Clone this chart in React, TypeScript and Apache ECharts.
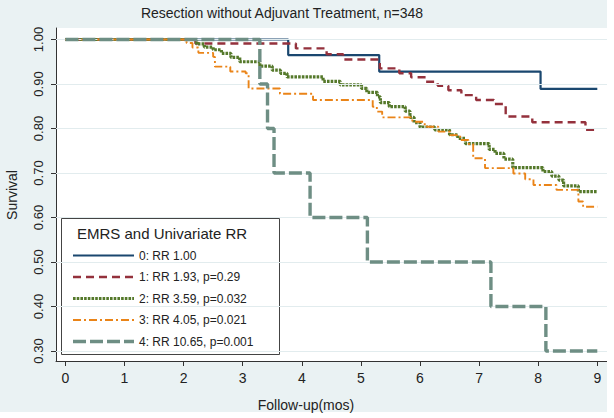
import React, { useEffect, useRef } from "react";
import * as echarts from "echarts";

const chartTitle = "Resection without Adjuvant Treatment, n=348";
const xAxisName = "Follow-up(mos)";
const yAxisName = "Survival";
const legendTitle = "EMRS and Univariate RR";
const seriesNames = [
  "0: RR 1.00",
  "1: RR 1.93, p=0.29",
  "2: RR 3.59, p=0.032",
  "3: RR 4.05, p=0.021",
  "4: RR 10.65, p=0.001",
];
const xTicks = [0, 1, 2, 3, 4, 5, 6, 7, 8, 9];
const yTicks = [0.3, 0.4, 0.5, 0.6, 0.7, 0.8, 0.9, 1.0];

// Kaplan-Meier step points: time (months) and survival after the step
const g0Times = [0, 3.77, 5.31, 8.04, 9];
const g0Surv = [1.0, 0.965, 0.928, 0.889, 0.889];

const g1Times = [0, 2.2, 3.9, 4.42, 4.7, 5.32, 5.65, 5.85, 6.1, 6.3, 6.48, 6.7, 6.95, 7.25, 7.45, 7.9, 8.8, 9];
const g1Surv = [1.0, 0.991, 0.98, 0.967, 0.955, 0.935, 0.924, 0.915, 0.905, 0.896, 0.886, 0.875, 0.864, 0.855, 0.827, 0.814, 0.797, 0.797];

const g2Times = [0, 2.22, 2.35, 2.5, 2.64, 2.8, 2.95, 3.29, 3.5, 3.64, 3.75, 4.36, 4.65, 5.01, 5.1, 5.28, 5.33, 5.48, 5.75, 5.83, 5.9, 6.0, 6.25, 6.5, 6.64, 6.77, 7.17, 7.27, 7.42, 7.57, 8.08, 8.23, 8.35, 8.43, 8.68, 9];
const g2Surv = [1.0, 0.99, 0.983, 0.977, 0.969, 0.96, 0.95, 0.94, 0.931, 0.924, 0.916, 0.906, 0.898, 0.89, 0.881, 0.871, 0.858, 0.849, 0.839, 0.825, 0.813, 0.803, 0.797, 0.786, 0.778, 0.766, 0.753, 0.744, 0.731, 0.712, 0.703, 0.693, 0.684, 0.671, 0.658, 0.658];

const g3Times = [0, 2.05, 2.15, 2.25, 2.5, 2.53, 2.79, 3.05, 3.1, 3.63, 4.19, 5.2, 5.27, 5.36, 5.87, 6.08, 6.31, 6.51, 6.68, 6.82, 6.9, 7.1, 7.58, 7.78, 7.92, 8.31, 8.68, 8.76, 9];
const g3Surv = [1.0, 0.992, 0.982, 0.97, 0.961, 0.939, 0.928, 0.924, 0.89, 0.878, 0.864, 0.849, 0.838, 0.825, 0.815, 0.804, 0.793, 0.785, 0.774, 0.765, 0.733, 0.711, 0.699, 0.686, 0.673, 0.662, 0.636, 0.624, 0.624];

const g4Times = [0, 3.29, 3.42, 3.53, 4.14, 5.11, 7.2, 8.13, 9];
const g4Surv = [1.0, 0.9, 0.8, 0.7, 0.6, 0.5, 0.4, 0.3, 0.3];

const groupTimes = [g0Times, g1Times, g2Times, g3Times, g4Times];
const groupSurv = [g0Surv, g1Surv, g2Surv, g3Surv, g4Surv];

const colors = ["#1a476f", "#94313c", "#55792b", "#ea8418", "#6e8e84"];
const widths = [2.2, 2.4, 3.2, 1.9, 3.4];
const dashes: (number[] | null)[] = [null, [8, 5], [2.6, 1.1], [8, 3, 2, 3], [13, 4]];

const FONT = '"Liberation Sans", Arial, Helvetica, sans-serif';
const TEXT = "#222";

export default function App() {
  const ref = useRef<HTMLDivElement>(null);
  useEffect(() => {
    if (!ref.current) return;
    const chart = echarts.init(ref.current, undefined, { renderer: "svg" });

    const series: any[] = [
      {
        name: "gridlines",
        type: "line",
        data: [],
        z: 1,
        silent: true,
        markLine: {
          silent: true,
          symbol: "none",
          label: { show: false },
          lineStyle: { color: "#E2ECEE", width: 1, type: "solid" },
          data: yTicks.map((v) => ({ yAxis: v })),
        },
      },
    ];
    seriesNames.forEach((name, i) => {
      series.push({
        name,
        type: "line",
        step: "end",
        symbol: "none",
        silent: true,
        z: 2 + i,
        data: groupTimes[i].map((t, k) => [t, groupSurv[i][k]]),
        lineStyle: {
          color: colors[i],
          width: widths[i],
          type: dashes[i] ? dashes[i] : "solid",
          cap: "butt",
        },
      });
    });

    const legendX = 61.5;
    const legendY = 218.5;
    const rowY0 = 255.5;
    const rowGap = 21.5;
    const legendChildren: any[] = [
      {
        type: "rect",
        shape: { x: legendX, y: legendY, width: 218, height: 136 },
        style: { fill: "#fff", stroke: "#444", lineWidth: 1 },
      },
      {
        type: "text",
        x: 77,
        y: 233,
        style: { text: legendTitle, font: `15px ${FONT}`, fill: TEXT, textVerticalAlign: "middle", textAlign: "left" },
      },
    ];
    seriesNames.forEach((name, i) => {
      const y = rowY0 + i * rowGap;
      legendChildren.push({
        type: "line",
        shape: { x1: 73, y1: y, x2: 134, y2: y },
        style: { stroke: colors[i], lineWidth: widths[i], lineDash: dashes[i] || null },
      });
      legendChildren.push({
        type: "text",
        x: 139,
        y,
        style: { text: name, font: `12px ${FONT}`, fill: TEXT, textVerticalAlign: "middle", textAlign: "left" },
      });
    });

    chart.setOption({
      animation: false,
      backgroundColor: "#EAF2F3",
      grid: {
        left: 56,
        top: 28,
        right: 7,
        bottom: 57,
        show: true,
        backgroundColor: "#ffffff",
        borderWidth: 0,
        containLabel: false,
      },
      xAxis: {
        type: "value",
        min: -0.1591,
        max: 9.1642,
        axisLine: { show: true, onZero: false, lineStyle: { color: "#333", width: 1 } },
        axisTick: { show: true, length: 5, customValues: xTicks, lineStyle: { color: "#333" } },
        axisLabel: {
          customValues: xTicks,
          color: TEXT,
          fontSize: 14,
          fontFamily: FONT,
          margin: 10,
        },
        splitLine: { show: false },
      },
      yAxis: {
        type: "value",
        min: 0.27753,
        max: 1.02584,
        axisLine: { show: true, onZero: false, lineStyle: { color: "#333", width: 1 } },
        axisTick: { show: true, length: 5, customValues: yTicks, lineStyle: { color: "#333" } },
        axisLabel: {
          customValues: yTicks,
          rotate: 90,
          color: TEXT,
          fontSize: 13,
          fontFamily: FONT,
          margin: 11,
          formatter: (v: number) => v.toFixed(2),
        },
        splitLine: { show: false },
      },
      series,
      graphic: [
        { type: "rect", shape: { x: 607, y: 0, width: 7, height: 418 }, style: { fill: "#fff" }, z: 50, silent: true },
        { type: "rect", shape: { x: 0, y: 412, width: 614, height: 6 }, style: { fill: "#fff" }, z: 50, silent: true },
        {
          type: "text",
          x: 282,
          y: 13,
          z: 60,
          style: { text: chartTitle, font: `14px ${FONT}`, fill: TEXT, textAlign: "center", textVerticalAlign: "middle" },
        },
        {
          type: "text",
          x: 306,
          y: 405,
          z: 60,
          style: { text: xAxisName, font: `14px ${FONT}`, fill: TEXT, textAlign: "center", textVerticalAlign: "middle" },
        },
        {
          type: "text",
          x: 12,
          y: 195,
          rotation: Math.PI / 2,
          z: 60,
          style: { text: yAxisName, font: `14px ${FONT}`, fill: TEXT, textAlign: "center", textVerticalAlign: "middle" },
        },
        { type: "group", z: 100, children: legendChildren },
      ],
    });
    return () => chart.dispose();
  }, []);
  return (
    <div
      ref={ref}
      style={{ position: "fixed", left: 0, top: 0, width: 614, height: 418, background: "#fff" }}
    />
  );
}
